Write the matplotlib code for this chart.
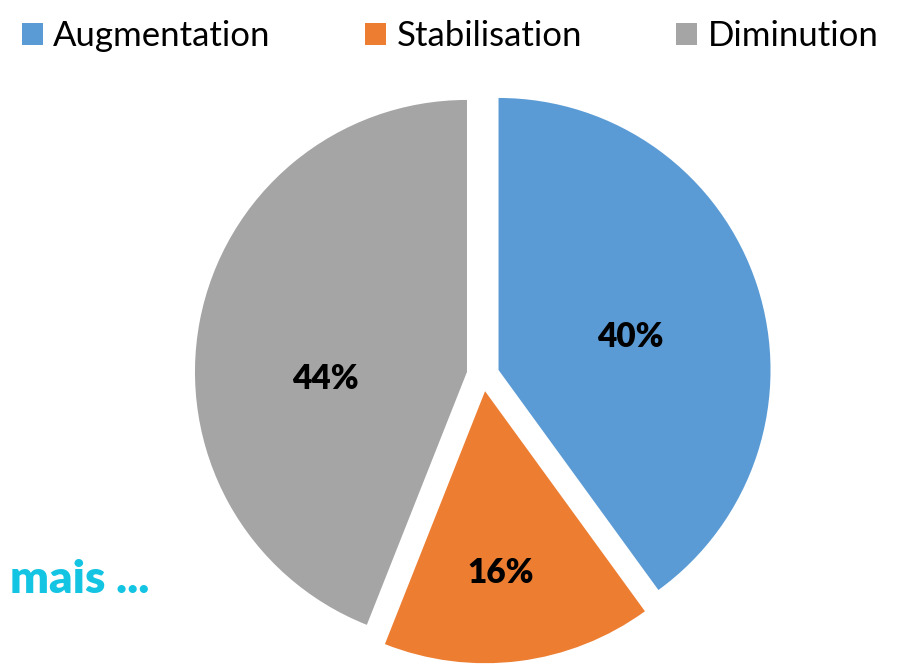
import numpy as np
import matplotlib.pyplot as plt
from matplotlib.patches import Patch

labels = ['Augmentation', 'Stabilisation', 'Diminution']
values = [40, 16, 44]
colors = ['#5B9BD5', '#ED7D31', '#A5A5A5']
# where excel put the percent labels (radius fraction, angle in degrees)
label_dist = [0.50, 0.67, 0.52]
label_ang = [14, -85, 183]

plt.rcParams['font.family'] = ['Lato', 'DejaVu Sans']

fig = plt.figure(figsize=(8.98, 6.64), dpi=100)
ax = fig.add_axes([0, 0, 1, 1])

wedges, texts, autotexts = ax.pie(values, colors=colors, startangle=90, counterclock=False,
                                  explode=[0.06] * 3, autopct='%1.0f%%', pctdistance=0.55,
                                  textprops=dict(fontsize=24, fontweight='heavy', color='black'))

for w, t, d, a in zip(wedges, autotexts, label_dist, label_ang):
    cx, cy = w.center
    t.set_position((cx + d * np.cos(np.deg2rad(a)), cy + d * np.sin(np.deg2rad(a))))

# pie centre at (483, 375) px, radius 272 px
r = 272
ax.set_xlim(-483 / r, (898 - 483) / r)
ax.set_ylim(-(664 - 375) / r, 375 / r)
ax.set_aspect('equal')
ax.axis('off')

handles = [Patch(facecolor=c, edgecolor='none') for c in colors]
fig.legend(handles, labels, loc='upper left', bbox_to_anchor=(22 / 898, 1 - 20 / 664), ncol=3,
           frameon=False, fontsize=25, handlelength=0.6, handleheight=0.6, handletextpad=0.3,
           columnspacing=2.72, borderpad=0, borderaxespad=0)

fig.text(10 / 898, (664 - 593) / 664, 'mais ...', color='#13C4E3', fontsize=33,
         fontweight='heavy', va='baseline', ha='left')

fig.savefig('out.png', dpi=100)
